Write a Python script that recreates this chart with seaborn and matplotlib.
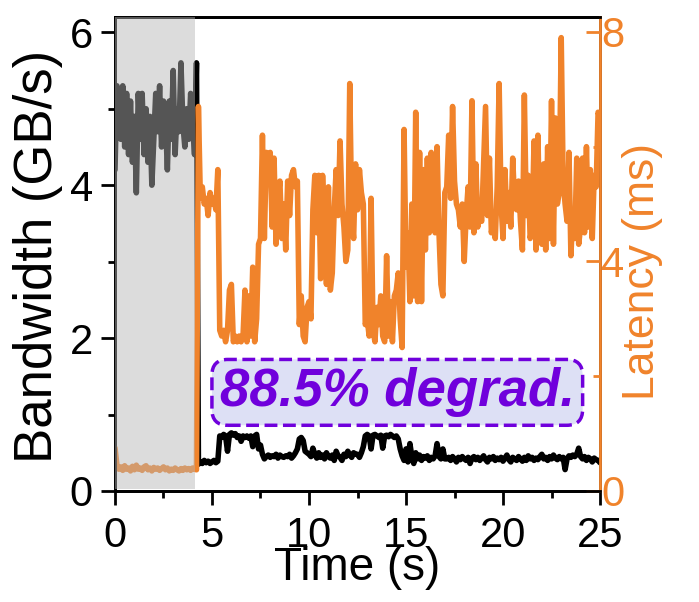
import numpy as np
import pandas as pd
import matplotlib
matplotlib.use("Agg")
import matplotlib.pyplot as plt
import seaborn as sns
from matplotlib.ticker import MultipleLocator, FixedLocator

sns.set_style("ticks")
plt.rcParams['font.family'] = ['Liberation Sans', 'DejaVu Sans']
plt.rcParams['text.color'] = 'black'
plt.rcParams['axes.labelcolor'] = 'black'
plt.rcParams['xtick.color'] = 'black'
plt.rcParams['ytick.color'] = 'black'

# bandwidth (GB/s), one sample every 0.1 s from t=0 to t=25
bandwidth = [
    # 0.0 - 4.2 (before the jump)
    4.2, 5.3, 5.0, 4.6, 5.3, 4.5, 5.2, 4.4, 5.1, 4.3, 4.9, 3.9, 5.2, 4.6, 5.2,
    4.4, 5.0, 4.3, 4.9, 4.0, 4.6, 5.2, 4.7, 5.3, 4.5, 5.1, 4.9, 4.2, 5.1, 4.6,
    5.5, 4.4, 5.0, 4.7, 5.6, 4.8, 4.5, 5.0, 4.6, 5.2, 4.8, 4.4, 5.6,
    # 4.3 - 5.3
    0.35, 0.38, 0.36, 0.40, 0.37, 0.39, 0.36, 0.38, 0.40, 0.37, 0.39,
    # 5.4 - 7.5
    0.72, 0.70, 0.74, 0.72, 0.52, 0.74, 0.76, 0.73, 0.75, 0.70, 0.72,
    0.65, 0.72, 0.70, 0.72, 0.69, 0.72, 0.58, 0.72, 0.74, 0.55, 0.60,
    # 7.6 - 12.4
    0.48, 0.42, 0.45, 0.47, 0.44, 0.46, 0.45, 0.48, 0.43, 0.47, 0.45, 0.44,
    0.46, 0.45, 0.48, 0.43, 0.46, 0.50, 0.55, 0.68, 0.70, 0.66, 0.52, 0.50,
    0.48, 0.45, 0.56, 0.48, 0.43, 0.50, 0.44, 0.47, 0.42, 0.50, 0.45, 0.43,
    0.47, 0.40, 0.52, 0.46, 0.44, 0.40, 0.48, 0.45, 0.52, 0.47, 0.44, 0.50,
    0.48,
    # 12.5 - 17.0
    0.48, 0.44, 0.50, 0.58, 0.72, 0.74, 0.72, 0.55, 0.73, 0.74, 0.72, 0.70,
    0.73, 0.56, 0.72, 0.73, 0.71, 0.74, 0.72, 0.70, 0.72, 0.68, 0.55, 0.46,
    0.40, 0.55, 0.38, 0.62, 0.45, 0.36, 0.50, 0.42, 0.47, 0.40, 0.45, 0.43,
    0.46, 0.40, 0.44, 0.42, 0.46, 0.62, 0.45, 0.42, 0.55, 0.42,
    # 17.1 - 25.0
    0.42, 0.44, 0.40, 0.45, 0.42, 0.38, 0.44, 0.41, 0.45, 0.42, 0.40, 0.44,
    0.36, 0.43, 0.45, 0.41, 0.44, 0.40, 0.43, 0.46, 0.41, 0.38, 0.44, 0.42,
    0.45, 0.40, 0.43, 0.41, 0.44, 0.39, 0.43, 0.47, 0.41, 0.38, 0.44, 0.42,
    0.40, 0.45, 0.42, 0.39, 0.44, 0.40, 0.46, 0.42, 0.44, 0.40, 0.43, 0.41,
    0.45, 0.48, 0.42, 0.44, 0.40, 0.45, 0.42, 0.47, 0.43, 0.41, 0.45, 0.42,
    0.44, 0.28, 0.42, 0.46, 0.44, 0.47, 0.45, 0.48, 0.56, 0.45, 0.42, 0.45,
    0.40, 0.44, 0.42, 0.38, 0.43, 0.41, 0.40, 0.37,
]

# latency (ms), same sampling
latency = [
    # 0.0 - 4.2
    0.75, 0.45, 0.38, 0.42, 0.36, 0.44, 0.38, 0.40, 0.35, 0.43, 0.37, 0.45,
    0.38, 0.40, 0.36, 0.42, 0.44, 0.37, 0.40, 0.35, 0.41, 0.38, 0.40, 0.36,
    0.39, 0.42, 0.37, 0.40, 0.35, 0.38, 0.36, 0.40, 0.37, 0.35, 0.39, 0.36,
    0.40, 0.37, 0.39, 0.36, 0.40, 0.38, 0.37,
    # 4.3 - 9.4
    6.7, 5.1, 5.3, 5.0, 5.1, 4.8, 5.2, 5.0, 5.1, 4.9, 5.6,
    2.8, 2.7, 2.8, 2.6, 2.8, 3.5, 3.6, 2.6, 2.7, 2.6, 2.7, 2.6, 2.7, 3.5,
    2.6, 3.4, 2.7, 3.9, 2.6, 3.0, 4.3, 4.4, 6.2, 4.4, 5.9, 5.5, 5.9, 4.6,
    5.8, 4.3, 5.1, 5.4, 4.4, 5.0, 4.2, 5.4, 4.8, 5.5, 5.6, 5.3, 5.4,
    # 9.5 - 14.8
    2.9, 3.4, 2.7, 2.6, 3.2, 3.3, 3.0, 4.9, 5.5, 4.5, 5.5, 3.7, 5.5, 4.6,
    3.6, 5.3, 3.5, 3.8, 4.9, 5.6, 4.8, 6.1, 5.0, 4.6, 4.0, 4.2, 7.1, 4.8,
    4.4, 5.7, 4.9, 5.6, 5.2, 5.0, 2.9, 3.0, 2.7, 5.1, 2.8, 2.6, 3.2, 2.9,
    3.4, 2.7, 2.6, 4.1, 2.7, 3.3, 2.6, 3.4, 3.5, 3.8, 3.0, 2.5,
    # 14.9 - 20.0
    6.3, 3.9, 4.5, 3.3, 5.0, 3.4, 6.6, 3.3, 5.9, 3.3, 5.6, 4.2, 5.8, 4.5,
    5.9, 4.7, 4.5, 6.0, 4.5, 3.6, 3.4, 5.2, 5.3, 6.2, 5.1, 6.7, 5.4, 5.0,
    4.9, 4.6, 5.0, 4.0, 4.8, 5.3, 4.6, 6.8, 4.5, 5.7, 4.6, 4.8, 4.7, 5.7,
    6.7, 4.8, 5.8, 4.5, 4.7, 4.4, 5.3, 7.1, 5.0, 4.4,
    # 20.1 - 25.0
    5.6, 4.7, 5.2, 4.6, 5.8, 5.0, 4.9, 5.4, 4.7, 4.2, 6.9, 4.8, 5.5, 4.4,
    4.6, 6.1, 4.2, 6.2, 4.4, 4.3, 5.7, 4.2, 6.0, 4.4, 6.8, 4.3, 6.5, 5.0,
    5.2, 7.9, 5.4, 5.0, 4.7, 5.9, 4.1, 4.9, 4.4, 5.8, 4.3, 4.6, 5.8, 4.5,
    6.0, 4.6, 5.6, 4.4, 5.5, 5.3, 6.6, 6.5,
]

time = [round(0.1 * i, 1) for i in range(len(bandwidth))]
t_lat = [round(0.1 * i, 1) for i in range(len(latency))]

df_bw = pd.DataFrame({'t': time, 'bw': bandwidth})
df_lat = pd.DataFrame({'t': t_lat, 'lat': latency})

orange = '#F0832B'
purple = '#7000DC'

fig = plt.figure(figsize=(6.99, 6.02), dpi=100)
ax = fig.add_axes([0.1645, 0.1844, 0.6939, 0.7874])
ax2 = ax.twinx()

sns.lineplot(data=df_bw, x='t', y='bw', ax=ax, color='black', lw=4)
sns.lineplot(data=df_lat, x='t', y='lat', ax=ax2, color=orange, lw=4)

# shaded warm-up window drawn on top of both lines
ax2.axvspan(0, 4.12, ymin=0.004, ymax=1, color='#b5b5b5', alpha=0.47, lw=0, zorder=10)

ax.set_xlim(0, 25)
ax.set_ylim(0, 6.2)
ax2.set_ylim(0, 8.26)

ax.xaxis.set_major_locator(MultipleLocator(5))
ax.xaxis.set_minor_locator(MultipleLocator(2.5))
ax.yaxis.set_major_locator(MultipleLocator(2))
ax.yaxis.set_minor_locator(MultipleLocator(1))
ax2.yaxis.set_major_locator(FixedLocator([0, 4, 8]))
ax2.yaxis.set_minor_locator(FixedLocator([2, 6]))

ax.set_xlabel('Time (s)', fontsize=33, labelpad=-7)
ax.set_ylabel('')
ax2.set_ylabel('')
ax.text(-0.158, 0.494, 'Bandwidth (GB/s)', transform=ax.transAxes, rotation=90,
        ha='center', va='center', fontsize=38)
ax2.text(1.087, 0.462, 'Latency (ms)', transform=ax2.transAxes, rotation=90,
         ha='center', va='center', fontsize=32, color=orange)

ax.tick_params(axis='both', which='major', labelsize=30, width=2, length=10, direction='out')
ax.tick_params(axis='x', which='major', pad=8)
ax.tick_params(axis='y', which='major', pad=6)
ax.tick_params(axis='both', which='minor', width=2, length=5, direction='out')
ax2.tick_params(axis='y', which='major', labelsize=30, width=2, length=10, direction='in',
                color=orange, labelcolor=orange, pad=1)
ax2.tick_params(axis='y', which='minor', width=2, length=5, direction='in', color=orange)

for a in (ax, ax2):
    for s in a.spines.values():
        s.set_linewidth(2)
        s.set_color('black')
ax2.spines['right'].set_color(orange)

ax.text(14.55, 1.29, '88.5% degrad.', ha='center', va='center', fontsize=38,
        fontweight='bold', fontstyle='italic', color=purple, zorder=20,
        bbox=dict(boxstyle='round,pad=0.15,rounding_size=0.3', fc='#DDE0F5', ec=purple, ls='--', lw=2.5))

fig.savefig('out.png', dpi=100)
